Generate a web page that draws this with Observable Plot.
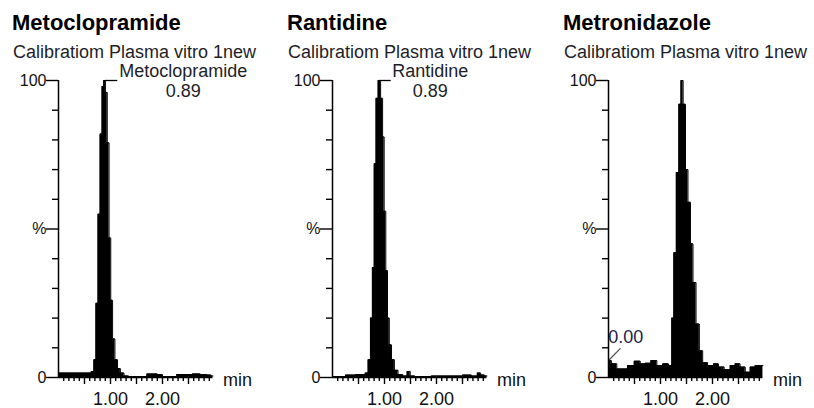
<!DOCTYPE html>
<html>
<head>
<meta charset="utf-8">
<script src="https://cdn.jsdelivr.net/npm/d3@7"></script>
<script src="https://cdn.jsdelivr.net/npm/@observablehq/plot@0.6"></script>
<style>
  body { margin: 0; background: #fff; }
  #chart { position: relative; width: 814px; height: 408px; overflow: hidden; background: #fff;
           font-family: "Liberation Sans", Arial, sans-serif; }
  .title { position: absolute; font-weight: bold; font-size: 22px; line-height: 22px; color: #000; white-space: nowrap; }
  .sub { position: absolute; font-size: 18px; line-height: 18px; color: #1e1e28; white-space: nowrap; }
  .panel { position: absolute; top: 0; }
</style>
</head>
<body>
<div id="chart"></div>
<script>
// ---- text ----
const compounds = ["Metoclopramide", "Rantidine", "Metronidazole"];
const subtitle = "Calibratiom Plasma vitro 1new";
const xUnit = "min";
const yTickLabels = {0: "0", 50: "%", 100: "100"};
const xTickLabels = {1: "1.00", 2: "2.00"};
const xMax = 2.97;

// ---- chromatogram traces (time in min, relative intensity in %) ----
const metoTime = [0.00, 0.10, 0.20, 0.30, 0.40, 0.50, 0.60, 0.66, 0.70, 0.74, 0.78, 0.82, 0.855, 0.885, 0.92, 0.955, 0.99, 1.02, 1.06, 1.11, 1.16, 1.22, 1.30, 1.40, 1.50, 1.65, 1.75, 1.85, 1.95, 2.05, 2.20, 2.35, 2.50, 2.65, 2.80, 2.90, 2.97];
const metoValue = [1.5, 1.5, 1.5, 1.5, 1.5, 1.5, 1.5, 2, 6, 25, 55, 82, 98, 100, 96, 79, 47, 26, 13, 6, 3, 1.5, 0.5, 0.3, 0.3, 0.3, 1.2, 1.2, 1.0, 0.3, 0.3, 1.0, 1.0, 1.2, 1.0, 0.8, 0.5];

const ranTime = [0.00, 0.10, 0.20, 0.30, 0.40, 0.50, 0.60, 0.66, 0.71, 0.75, 0.785, 0.82, 0.855, 0.90, 0.95, 0.977, 1.01, 1.04, 1.075, 1.11, 1.16, 1.22, 1.30, 1.40, 1.47, 1.52, 1.65, 1.80, 2.00, 2.20, 2.40, 2.60, 2.75, 2.82, 2.88, 2.97];
const ranValue = [0.3, 0.3, 0.3, 0.8, 0.8, 1.0, 1.0, 1.5, 6, 20, 37, 72, 94, 100, 94, 81, 56, 36, 20, 11, 6, 2.4, 1, 0.5, 2, 0.5, 0.3, 0.3, 0.5, 0.5, 0.5, 0.8, 0.5, 1.5, 0.8, 0.5];

const metroTime = [0.00, 0.11, 0.21, 0.30, 0.43, 0.56, 0.66, 0.75, 0.88, 0.98, 1.11, 1.20, 1.234, 1.279, 1.33, 1.375, 1.413, 1.458, 1.503, 1.554, 1.599, 1.651, 1.715, 1.779, 1.843, 1.97, 2.07, 2.16, 2.29, 2.39, 2.48, 2.58, 2.68, 2.77, 2.87, 2.97];
const metroValue = [5.7, 4.6, 2.9, 2.9, 4.0, 5.5, 4.6, 4.8, 5.7, 4.0, 4.6, 4.0, 20, 42, 69, 92, 100, 92, 70, 59, 45, 32, 18, 9, 5, 4, 4.6, 3.5, 2.6, 4.0, 4.6, 3.5, 1.8, 3.5, 4.0, 4.0];

// ---- peak annotations ----
const annRt = [0.89, 0.89, 0.00];
const annName = ["Metoclopramide", "Rantidine", ""];
const annLabelX = [2.40, 1.88, 0.33];
const annLeadX = [1.13, 1.12, 0.23];
const annLeadY = [100, 100, 9.8];

const times = [metoTime, ranTime, metroTime];
const values = [metoValue, ranValue, metroValue];

// ---- layout ----
const panelLeft = [0, 274, 550];
const titleLeft = [12, 287, 563];
const W = 274, H = 408, ML = 58, MT = 80, MB = 31;
const MR = W - ML - xMax * 52;

const yAll = d3.range(0, 11).map(k => k * 10);
const yMajor = [0, 50, 100];
const yMinor = yAll.filter(v => !yMajor.includes(v));
const xMajor = d3.range(1, 6).map(k => k * 0.5);
const xMinor = d3.range(1, 30).filter(k => k % 5 !== 0).map(k => k / 10);

const chart = document.getElementById("chart");
const baseOpts = {
  width: W, height: H,
  marginLeft: ML, marginRight: MR, marginTop: MT, marginBottom: MB,
  x: {domain: [0, xMax]},
  y: {domain: [0, 100]},
  style: {fontFamily: "'Liberation Sans', Arial, sans-serif", background: "transparent", color: "#111", overflow: "visible"}
};

function place(svg, left) {
  svg.classList.add("panel");
  svg.style.left = left + "px";
  chart.appendChild(svg);
}

function makePanel(i) {
  const data = times[i].map((t, k) => ({t, v: values[i][k]}));
  const ann = [{rt: annRt[i], name: annName[i], labelX: annLabelX[i], leadX: annLeadX[i], leadY: annLeadY[i], start: values[i][0]}];
  const marks = [
    Plot.areaY(data, {x: "t", y: "v", fill: "#000", curve: "step"}),
    Plot.lineY(data, {x: "t", y: "v", stroke: "#000", strokeWidth: 1, curve: "step"}),
    // tick labels only (tick marks are drawn on the overlay below)
    Plot.axisY(yMajor, {tickSize: 0, tickPadding: 12, tickFormat: d => yTickLabels[d], label: null, fontSize: 16}),
    Plot.axisX([1, 2], {tickSize: 0, tickPadding: 15, tickFormat: d => xTickLabels[d], label: null, fontSize: 18}),
    Plot.text([xUnit], {text: d => d, frameAnchor: "bottom-right", textAnchor: "start", lineAnchor: "middle", dx: 10, dy: 3, fontSize: 18, fill: "#111"})
  ];
  if (annName[i]) {
    marks.push(
      Plot.link(ann, {x1: "rt", y1: "leadY", x2: "leadX", y2: "leadY", stroke: "#000", strokeWidth: 1.3}),
      Plot.text(ann, {x: "labelX", y: "leadY", text: "name", lineAnchor: "bottom", dy: -4, fontSize: 18, fill: "#1e1e28"}),
      Plot.text(ann, {x: "labelX", y: "leadY", text: d => d.rt.toFixed(2), lineAnchor: "top", dy: 4, fontSize: 18, fill: "#1e1e28"})
    );
  } else {
    marks.push(
      Plot.link(ann, {x1: "rt", y1: "start", x2: "leadX", y2: "leadY", stroke: "#555", strokeWidth: 1.3}),
      Plot.text(ann, {x: "labelX", y: "leadY", text: d => d.rt.toFixed(2), lineAnchor: "bottom", dy: -5, fontSize: 18, fill: "#23234a"})
    );
  }
  place(Plot.plot({...baseOpts, marks}), panelLeft[i]);

  // axis lines and tick marks, same scales, drawn on top
  place(Plot.plot({...baseOpts, marks: [
    Plot.ruleX([0], {stroke: "#000", strokeWidth: 1.5}),
    Plot.ruleY([0], {stroke: "#000", strokeWidth: 1.5}),
    Plot.axisY(yMinor, {tickSize: 6, tickFormat: () => "", label: null, stroke: "#000", strokeWidth: 1.4}),
    Plot.axisY(yMajor, {tickSize: 12, tickFormat: () => "", label: null, stroke: "#000", strokeWidth: 1.4}),
    Plot.axisX(xMinor, {tickSize: 4, tickFormat: () => "", label: null, stroke: "#000", strokeWidth: 1.4}),
    Plot.axisX(xMajor, {tickSize: 7, tickFormat: () => "", label: null, stroke: "#000", strokeWidth: 1.4})
  ]}), panelLeft[i]);

  const t = document.createElement("div");
  t.className = "title";
  t.textContent = compounds[i];
  t.style.left = titleLeft[i] + "px";
  t.style.top = "12px";
  chart.appendChild(t);
  const s = document.createElement("div");
  s.className = "sub";
  s.textContent = subtitle;
  s.style.left = (titleLeft[i] + 1) + "px";
  s.style.top = "43px";
  chart.appendChild(s);
}
[0, 1, 2].forEach(makePanel);
</script>
</body>
</html>
